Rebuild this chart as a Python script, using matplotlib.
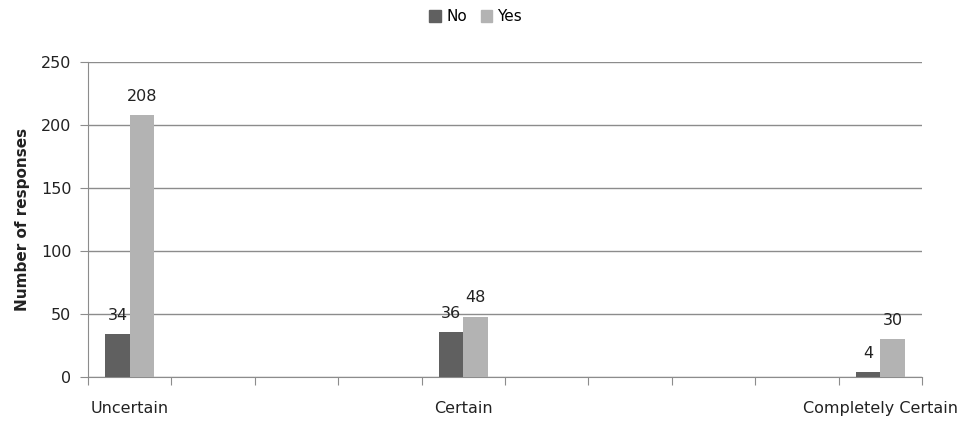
import numpy as np
import matplotlib
matplotlib.use('Agg')
from matplotlib import pyplot as plt
from matplotlib.patches import Patch

# ten-point certainty scale, only the anchor points are labelled
categories = ['Uncertain', '', '', '', 'Certain', '', '', '', '', 'Completely Certain']
no_counts = [34, 0, 0, 0, 36, 0, 0, 0, 0, 4]
yes_counts = [208, 0, 0, 0, 48, 0, 0, 0, 0, 30]

plt.rcParams['font.family'] = ['DejaVu Sans']

no_color = '#606060'
yes_color = '#b3b3b3'
grid_color = '#8c8c8c'
text_color = '#222222'

fig = plt.figure(figsize=(9.71, 4.21), dpi=100)
ax = fig.add_axes([0.0906, 0.1045, 0.859, 0.7482])

x = np.arange(len(categories)) + 0.5
w = 0.29
no_bars = ax.bar(x - w / 2, no_counts, w, color=no_color, zorder=3)
yes_bars = ax.bar(x + w / 2, yes_counts, w, color=yes_color, zorder=3)

# value labels on the non-empty bars
for bars, vals in ((no_bars, no_counts), (yes_bars, yes_counts)):
    for b, v in zip(bars, vals):
        if v:
            ax.annotate(str(v), (b.get_x() + b.get_width() / 2, v),
                        xytext=(0, 8), textcoords='offset points',
                        ha='center', va='bottom', fontsize=11.5, color=text_color)

ax.set_xlim(0, len(categories))
ax.set_ylim(0, 250)
ax.set_yticks(range(0, 251, 50))
ax.yaxis.grid(True, color=grid_color, linewidth=1)
ax.set_axisbelow(True)

# category ticks sit on the boundaries, labels in the middle
ax.set_xticks(range(len(categories) + 1))
ax.set_xticklabels([])
ax.set_xticks(x, minor=True)
ax.set_xticklabels(categories, minor=True, fontsize=11.5, color=text_color)
ax.tick_params(axis='x', which='minor', length=0, pad=17)
ax.tick_params(axis='x', which='major', length=6, color=grid_color, direction='out')
ax.tick_params(axis='y', length=6, color=grid_color, labelsize=11.5,
               labelcolor=text_color, pad=6)

for side in ('top', 'right'):
    ax.spines[side].set_visible(False)
for side in ('left', 'bottom'):
    ax.spines[side].set_color(grid_color)

ax.set_ylabel('Number of responses', fontsize=11, fontweight='bold',
              color=text_color, labelpad=8)

handles = [Patch(color=no_color, label='No'), Patch(color=yes_color, label='Yes')]
fig.legend(handles=handles, loc='center', bbox_to_anchor=(0.49, 0.96), ncol=2,
           frameon=False, fontsize=11, handlelength=0.75, handleheight=0.9,
           handletextpad=0.35, columnspacing=0.9)

fig.savefig('out.png', dpi=100)
